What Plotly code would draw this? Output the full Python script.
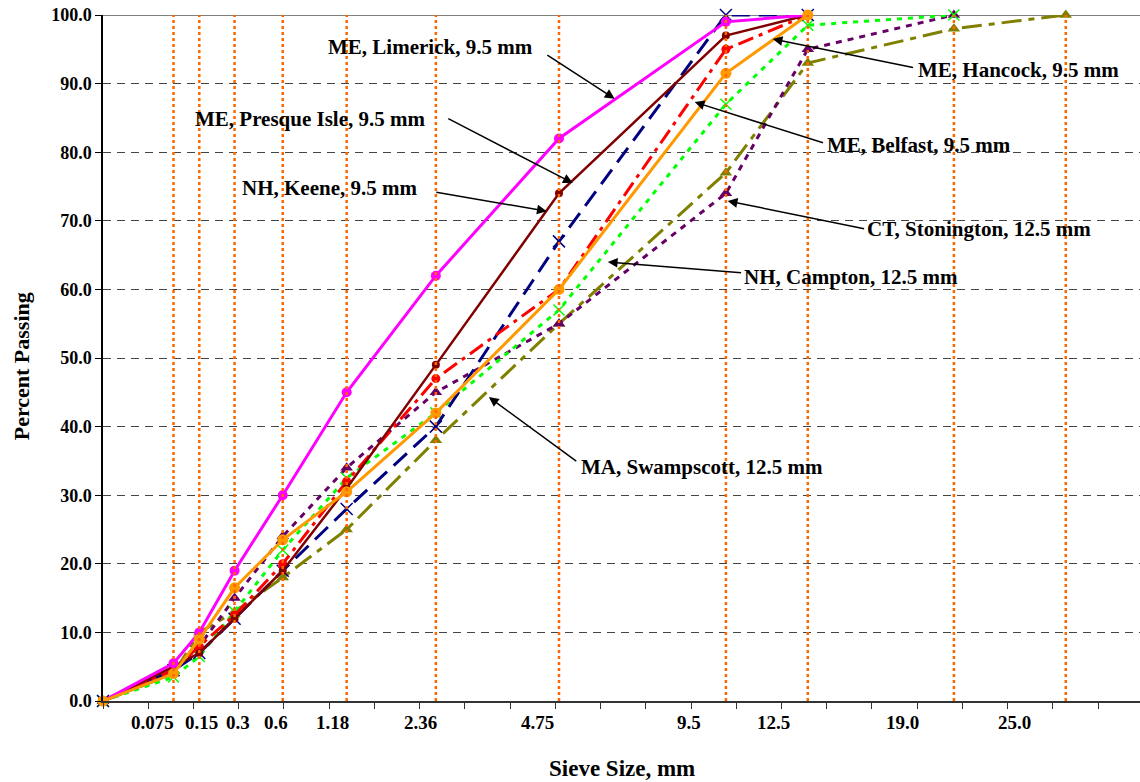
import plotly.graph_objects as go

# ---------------- data ----------------
sieve_sizes = [0, 0.075, 0.15, 0.3, 0.6, 1.18, 2.36, 4.75, 9.5, 12.5, 19.0, 25.0]
tick_labels = ["0.075", "0.15", "0.3", "0.6", "1.18", "2.36", "4.75", "9.5", "12.5", "19.0", "25.0"]
# label centres along the 0.45-power axis (as placed in the original chart)
tick_label_pos = [0.219, 0.437, 0.597, 0.764, 1.016, 1.405, 1.922, 2.589, 2.965, 3.535, 4.030]

me_limerick = [0, 5.5, 10, 19, 30, 45, 62, 82, 99, 100]
me_presque_isle = [0, 5, 7, 12, 19, 31, 49, 74, 97, 100]
nh_keene = [0, 4.5, 7, 12, 19, 28, 40, 67, 100, 100]
me_belfast = [0, 4.5, 8, 12.5, 20, 32, 47, 60, 95, 100]
me_hancock = [0, 4, 9, 16.5, 23.5, 30.5, 42, 60, 91.5, 100]
ct_stonington = [0, 4.5, 8, 15, 24, 34, 45, 55, 74, 95, 100]
nh_campton = [0, 3.5, 6.5, 13, 22, 32.5, 42, 57, 87, 98.5, 100]
ma_swampscott = [0, 4, 10, 13, 18, 25, 38, 55, 77, 93, 98, 100]

POW = 0.45


def px(sizes):
    return [s ** POW for s in sizes]


FONT = "Liberation Serif, Times New Roman, serif"

series = [
    # name, values, color, dash, width, marker symbol, marker size
    ("MA, Swampscott, 12.5 mm", ma_swampscott, "#808000", "20px,7px,6px,7px", 3, "triangle-up", 11),
    ("CT, Stonington, 12.5 mm", ct_stonington, "#660066", "6px,6px", 3, "triangle-up", 11),
    ("NH, Campton, 12.5 mm", nh_campton, "#00FF00", "5px,6px", 3, "x-thin-open", 11),
    ("NH, Keene, 9.5 mm", nh_keene, "#000080", "18px,9px", 3, "x-thin-open", 12),
    ("ME, Belfast, 9.5 mm", me_belfast, "#FF0000", "16px,6px,4px,6px", 3, "circle", 9),
    ("ME, Presque Isle, 9.5 mm", me_presque_isle, "#800000", "solid", 2.5, "circle", 8),
    ("ME, Limerick, 9.5 mm", me_limerick, "#FF00FF", "solid", 3, "circle", 10),
    ("ME, Hancock, 9.5 mm", me_hancock, "#FF9900", "solid", 3, "circle", 11),
]

fig = go.Figure()

for name, vals, color, dash, w, sym, ms in series:
    xs = px(sieve_sizes[: len(vals)])
    open_sym = sym.endswith("open")
    fig.add_trace(go.Scatter(
        x=xs, y=vals, mode="lines+markers", name=name,
        line=dict(color=color, width=w, dash=dash),
        marker=dict(symbol=sym, size=ms, color=color,
                    line=dict(color=color, width=1.5 if open_sym else 0)),
        cliponaxis=False, showlegend=False, hoverinfo="skip",
    ))

# vertical dotted sieve lines (drawn on top like the original)
vx, vy = [], []
for s in sieve_sizes[1:]:
    vx += [s ** POW, s ** POW, None]
    vy += [0, 100, None]
fig.add_trace(go.Scatter(x=vx, y=vy, mode="lines",
                         line=dict(color="#FF6600", width=2.5, dash="dot"),
                         showlegend=False, hoverinfo="skip"))

# top border line at 100
fig.add_shape(type="line", xref="paper", yref="y", x0=0, x1=1, y0=100, y1=100,
              line=dict(color="#808080", width=2), layer="below")

annotations = []
# x tick labels
for lab, pos in zip(tick_labels, tick_label_pos):
    annotations.append(dict(x=pos, y=-0.031, xref="x", yref="paper", text=lab,
                            showarrow=False, xanchor="center", yanchor="middle",
                            font=dict(family=FONT, size=19, color="black", weight="bold")))

# series labels: (text, text_x, text_y, tail_x, tail_y, head_x, head_y)
labels = [
    ("ME, Limerick, 9.5 mm", 1.449, 95.3, 1.958, 94.3, 2.262, 87.8),
    ("ME, Presque Isle, 9.5 mm", 0.919, 84.8, 1.520, 85.0, 2.077, 75.5),
    ("NH, Keene, 9.5 mm", 1.003, 74.8, 1.467, 74.2, 1.962, 71.4),
    ("ME, Hancock, 9.5 mm", 4.048, 92.0, 3.588, 92.3, 2.961, 96.5),
    ("ME, Belfast, 9.5 mm", 3.610, 81.0, 3.190, 81.3, 2.616, 87.3),
    ("CT, Stonington, 12.5 mm", 3.871, 68.8, 3.372, 68.8, 2.762, 72.9),
    ("NH, Campton, 12.5 mm", 3.305, 61.8, 2.828, 62.4, 2.232, 64.0),
    ("MA, Swampscott, 12.5 mm", 2.647, 34.1, 2.099, 34.8, 1.706, 44.3),
]
for text, tx, ty, ax_, ay_, hx, hy in labels:
    annotations.append(dict(x=tx, y=ty, xref="x", yref="y", text=text, showarrow=False,
                            xanchor="center", yanchor="middle",
                            font=dict(family=FONT, size=21, color="black", weight="bold")))
    annotations.append(dict(x=hx, y=hy, xref="x", yref="y", ax=ax_, ay=ay_,
                            axref="x", ayref="y", text="", showarrow=True,
                            arrowhead=2, arrowsize=1.3, arrowwidth=1.5, arrowcolor="black"))

# axis titles
annotations.append(dict(x=0.5005, y=-0.098, xref="paper", yref="paper", text="Sieve Size, mm",
                        showarrow=False, xanchor="center", yanchor="middle",
                        font=dict(family=FONT, size=23, color="black", weight="bold")))
annotations.append(dict(x=-0.079, y=0.488, xref="paper", yref="paper", text="Percent Passing",
                        showarrow=False, xanchor="center", yanchor="middle", textangle=-90,
                        font=dict(family=FONT, size=22, color="black", weight="bold")))

fig.update_layout(
    width=1140, height=782,
    margin=dict(l=103, r=0, t=15, b=81, autoexpand=False),
    paper_bgcolor="white", plot_bgcolor="white",
    annotations=annotations,
    xaxis=dict(range=[0, 4.585], automargin=False, showgrid=False, zeroline=False, showline=True,
               linecolor="#333333", linewidth=2, ticks="outside", ticklen=6,
               tickcolor="#333333", tickwidth=1, tick0=0, dtick=0.2,
               showticklabels=False),
    yaxis=dict(range=[0, 100], automargin=False, dtick=10, tickformat=".1f", showgrid=True,
               gridcolor="#444444", gridwidth=1, griddash="8px,6px",
               zeroline=False, showline=True, linecolor="black", linewidth=1.5,
               ticks="outside", ticklen=6, tickcolor="black",
               tickfont=dict(family=FONT, size=18, color="black", weight="bold")),
)

fig.write_html("out.html", config={"displayModeBar": False},
               post_script="document.body.style.margin='0px';document.body.style.padding='0px';")
